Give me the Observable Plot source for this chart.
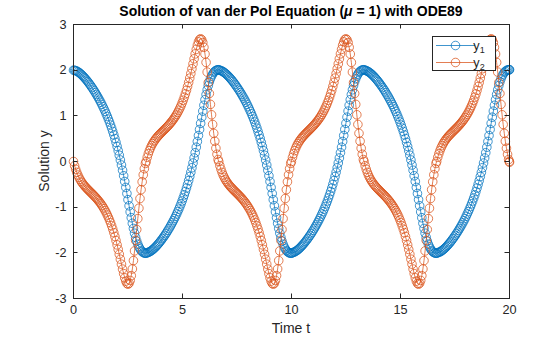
<!DOCTYPE html>
<html><head><meta charset="utf-8">
<script src="https://cdn.jsdelivr.net/npm/d3@7"></script>
<script src="https://cdn.jsdelivr.net/npm/@observablehq/plot@0.6"></script>
<style>
body{margin:0;background:#fff}
svg{font-family:"Liberation Sans",Arial,Helvetica,sans-serif}
</style>
</head><body><div id="chart"></div>
<script>
// Time samples (solver output points)
const t = [
0,0.05,0.1,0.15,0.2,0.25,0.3,0.35,0.4,0.45,0.5,0.55,0.6,0.65,0.7,0.75,0.8,0.85,0.9,0.95,1,1.05,1.1,1.15,1.2,1.25,1.3,1.35,1.4,1.45,1.5,1.55,1.6,1.65,1.7,1.75,1.8,1.85,1.9,1.95,2,2.05,2.1,2.15,2.2,2.25,2.3,2.35,2.4,2.45,2.5,2.55,2.6,2.65,2.7,2.75,2.8,2.85,2.9,2.95,3,3.05,3.1,3.15,3.2,3.25,3.3,
3.332,3.382,3.432,3.482,3.532,3.582,3.632,3.682,3.732,3.782,3.832,3.882,3.932,3.982,4.032,4.082,4.132,4.182,4.232,4.282,4.332,4.382,4.432,4.482,4.532,4.582,4.632,4.682,4.732,4.782,4.832,4.882,4.932,4.982,5.032,5.082,5.132,5.182,5.232,5.282,5.332,5.382,5.432,5.482,5.532,5.582,5.632,5.682,5.732,5.782,5.832,5.882,5.932,5.982,6.032,6.082,6.132,6.182,6.232,6.282,6.332,6.382,6.432,6.482,6.532,6.582,6.632,
6.664,6.714,6.764,6.814,6.864,6.914,6.964,7.014,7.064,7.114,7.164,7.214,7.264,7.314,7.364,7.414,7.464,7.514,7.564,7.614,7.664,7.714,7.764,7.814,7.864,7.914,7.964,8.014,8.064,8.114,8.164,8.214,8.264,8.314,8.364,8.414,8.464,8.514,8.564,8.614,8.664,8.714,8.764,8.814,8.864,8.914,8.964,9.014,9.064,9.114,9.164,9.214,9.264,9.314,9.364,9.414,9.464,9.514,9.564,9.614,9.664,9.714,9.764,9.814,9.864,9.914,9.964,
9.996,10.046,10.096,10.146,10.196,10.246,10.296,10.346,10.396,10.446,10.496,10.546,10.596,10.646,10.696,10.746,10.796,10.846,10.896,10.946,10.996,11.046,11.096,11.146,11.196,11.246,11.296,11.346,11.396,11.446,11.496,11.546,11.596,11.646,11.696,11.746,11.796,11.846,11.896,11.946,11.996,12.046,12.096,12.146,12.196,12.246,12.296,12.346,12.396,12.446,12.496,12.546,12.596,12.646,12.696,12.746,12.796,12.846,12.896,12.946,12.996,13.046,13.096,13.146,13.196,13.246,13.296,
13.328,13.378,13.428,13.478,13.528,13.578,13.628,13.678,13.728,13.778,13.828,13.878,13.928,13.978,14.028,14.078,14.128,14.178,14.228,14.278,14.328,14.378,14.428,14.478,14.528,14.578,14.628,14.678,14.728,14.778,14.828,14.878,14.928,14.978,15.028,15.078,15.128,15.178,15.228,15.278,15.328,15.378,15.428,15.478,15.528,15.578,15.628,15.678,15.728,15.778,15.828,15.878,15.928,15.978,16.028,16.078,16.128,16.178,16.228,16.278,16.328,16.378,16.428,16.478,16.528,16.578,16.628,
16.66,16.71,16.76,16.81,16.86,16.91,16.96,17.01,17.06,17.11,17.16,17.21,17.26,17.31,17.36,17.41,17.46,17.51,17.56,17.61,17.66,17.71,17.76,17.81,17.86,17.91,17.96,18.01,18.06,18.11,18.16,18.21,18.26,18.31,18.36,18.41,18.46,18.51,18.56,18.61,18.66,18.71,18.76,18.81,18.86,18.91,18.96,19.01,19.06,19.11,19.16,19.21,19.26,19.31,19.36,19.41,19.46,19.51,19.56,19.61,19.66,19.71,19.76,19.81,19.86,19.91,19.96,
19.992,20
];
// First solution component y1
const y1 = [
2,1.997,1.99,1.979,1.966,1.949,1.93,1.91,1.887,1.862,1.837,1.809,1.781,1.751,1.72,1.687,1.654,1.619,1.584,1.547,1.508,1.469,1.428,1.386,1.342,1.297,1.25,1.201,1.15,1.098,1.043,0.986,0.926,0.864,0.798,0.73,0.658,0.582,0.502,0.418,0.329,0.236,0.137,0.033,-0.077,-0.192,-0.313,-0.438,-0.568,-0.701,-0.836,-0.97,-1.103,-1.231,-1.353,-1.466,-1.57,-1.662,-1.743,-1.811,-1.868,-1.913,-1.949,-1.975,-1.993,-2.004,-2.009,
-2.009,-1.997,-1.99,-1.979,-1.966,-1.949,-1.93,-1.91,-1.887,-1.862,-1.837,-1.809,-1.781,-1.751,-1.72,-1.687,-1.654,-1.619,-1.584,-1.547,-1.508,-1.469,-1.428,-1.386,-1.342,-1.297,-1.25,-1.201,-1.15,-1.098,-1.043,-0.986,-0.926,-0.864,-0.798,-0.73,-0.658,-0.582,-0.502,-0.418,-0.329,-0.236,-0.137,-0.033,0.077,0.192,0.313,0.438,0.568,0.701,0.836,0.97,1.103,1.231,1.353,1.466,1.57,1.662,1.743,1.811,1.868,1.913,1.949,1.975,1.993,2.004,2.009,
2.009,1.997,1.99,1.979,1.966,1.949,1.93,1.91,1.887,1.862,1.837,1.809,1.781,1.751,1.72,1.687,1.654,1.619,1.584,1.547,1.508,1.469,1.428,1.386,1.342,1.297,1.25,1.201,1.15,1.098,1.043,0.986,0.926,0.864,0.798,0.73,0.658,0.582,0.502,0.418,0.329,0.236,0.137,0.033,-0.077,-0.192,-0.313,-0.438,-0.568,-0.701,-0.836,-0.97,-1.103,-1.231,-1.353,-1.466,-1.57,-1.662,-1.743,-1.811,-1.868,-1.913,-1.949,-1.975,-1.993,-2.004,-2.009,
-2.009,-1.997,-1.99,-1.979,-1.966,-1.949,-1.93,-1.91,-1.887,-1.862,-1.837,-1.809,-1.781,-1.751,-1.72,-1.687,-1.654,-1.619,-1.584,-1.547,-1.508,-1.469,-1.428,-1.386,-1.342,-1.297,-1.25,-1.201,-1.15,-1.098,-1.043,-0.986,-0.926,-0.864,-0.798,-0.73,-0.658,-0.582,-0.502,-0.418,-0.329,-0.236,-0.137,-0.033,0.077,0.192,0.313,0.438,0.568,0.701,0.836,0.97,1.103,1.231,1.353,1.466,1.57,1.662,1.743,1.811,1.868,1.913,1.949,1.975,1.993,2.004,2.009,
2.009,1.997,1.99,1.979,1.966,1.949,1.93,1.91,1.887,1.862,1.837,1.809,1.781,1.751,1.72,1.687,1.654,1.619,1.584,1.547,1.508,1.469,1.428,1.386,1.342,1.297,1.25,1.201,1.15,1.098,1.043,0.986,0.926,0.864,0.798,0.73,0.658,0.582,0.502,0.418,0.329,0.236,0.137,0.033,-0.077,-0.192,-0.313,-0.438,-0.568,-0.701,-0.836,-0.97,-1.103,-1.231,-1.353,-1.466,-1.57,-1.662,-1.743,-1.811,-1.868,-1.913,-1.949,-1.975,-1.993,-2.004,-2.009,
-2.009,-1.997,-1.99,-1.979,-1.966,-1.949,-1.93,-1.91,-1.887,-1.862,-1.837,-1.809,-1.781,-1.751,-1.72,-1.687,-1.654,-1.619,-1.584,-1.547,-1.508,-1.469,-1.428,-1.386,-1.342,-1.297,-1.25,-1.201,-1.15,-1.098,-1.043,-0.986,-0.926,-0.864,-0.798,-0.73,-0.658,-0.582,-0.502,-0.418,-0.329,-0.236,-0.137,-0.033,0.077,0.192,0.313,0.438,0.568,0.701,0.836,0.97,1.103,1.231,1.353,1.466,1.57,1.662,1.743,1.811,1.868,1.913,1.949,1.975,1.993,2.004,2.009,
2.009,2.009
];
// Second solution component y2
const y2 = [
0,-0.092,-0.17,-0.238,-0.297,-0.348,-0.393,-0.433,-0.468,-0.501,-0.53,-0.558,-0.584,-0.609,-0.633,-0.657,-0.681,-0.704,-0.728,-0.753,-0.778,-0.804,-0.832,-0.861,-0.891,-0.924,-0.958,-0.995,-1.034,-1.076,-1.122,-1.171,-1.223,-1.281,-1.342,-1.409,-1.481,-1.558,-1.642,-1.731,-1.826,-1.926,-2.031,-2.139,-2.248,-2.356,-2.456,-2.547,-2.62,-2.669,-2.687,-2.666,-2.605,-2.5,-2.353,-2.17,-1.958,-1.728,-1.489,-1.251,-1.023,-0.811,-0.617,-0.444,-0.291,-0.158,-0.043,
0,0.092,0.17,0.238,0.297,0.348,0.393,0.433,0.468,0.501,0.53,0.558,0.584,0.609,0.633,0.657,0.681,0.704,0.728,0.753,0.778,0.804,0.832,0.861,0.891,0.924,0.958,0.995,1.034,1.076,1.122,1.171,1.223,1.281,1.342,1.409,1.481,1.558,1.642,1.731,1.826,1.926,2.031,2.139,2.248,2.356,2.456,2.547,2.62,2.669,2.687,2.666,2.605,2.5,2.353,2.17,1.958,1.728,1.489,1.251,1.023,0.811,0.617,0.444,0.291,0.158,0.043,
0,-0.092,-0.17,-0.238,-0.297,-0.348,-0.393,-0.433,-0.468,-0.501,-0.53,-0.558,-0.584,-0.609,-0.633,-0.657,-0.681,-0.704,-0.728,-0.753,-0.778,-0.804,-0.832,-0.861,-0.891,-0.924,-0.958,-0.995,-1.034,-1.076,-1.122,-1.171,-1.223,-1.281,-1.342,-1.409,-1.481,-1.558,-1.642,-1.731,-1.826,-1.926,-2.031,-2.139,-2.248,-2.356,-2.456,-2.547,-2.62,-2.669,-2.687,-2.666,-2.605,-2.5,-2.353,-2.17,-1.958,-1.728,-1.489,-1.251,-1.023,-0.811,-0.617,-0.444,-0.291,-0.158,-0.043,
0,0.092,0.17,0.238,0.297,0.348,0.393,0.433,0.468,0.501,0.53,0.558,0.584,0.609,0.633,0.657,0.681,0.704,0.728,0.753,0.778,0.804,0.832,0.861,0.891,0.924,0.958,0.995,1.034,1.076,1.122,1.171,1.223,1.281,1.342,1.409,1.481,1.558,1.642,1.731,1.826,1.926,2.031,2.139,2.248,2.356,2.456,2.547,2.62,2.669,2.687,2.666,2.605,2.5,2.353,2.17,1.958,1.728,1.489,1.251,1.023,0.811,0.617,0.444,0.291,0.158,0.043,
0,-0.092,-0.17,-0.238,-0.297,-0.348,-0.393,-0.433,-0.468,-0.501,-0.53,-0.558,-0.584,-0.609,-0.633,-0.657,-0.681,-0.704,-0.728,-0.753,-0.778,-0.804,-0.832,-0.861,-0.891,-0.924,-0.958,-0.995,-1.034,-1.076,-1.122,-1.171,-1.223,-1.281,-1.342,-1.409,-1.481,-1.558,-1.642,-1.731,-1.826,-1.926,-2.031,-2.139,-2.248,-2.356,-2.456,-2.547,-2.62,-2.669,-2.687,-2.666,-2.605,-2.5,-2.353,-2.17,-1.958,-1.728,-1.489,-1.251,-1.023,-0.811,-0.617,-0.444,-0.291,-0.158,-0.043,
0,0.092,0.17,0.238,0.297,0.348,0.393,0.433,0.468,0.501,0.53,0.558,0.584,0.609,0.633,0.657,0.681,0.704,0.728,0.753,0.778,0.804,0.832,0.861,0.891,0.924,0.958,0.995,1.034,1.076,1.122,1.171,1.223,1.281,1.342,1.409,1.481,1.558,1.642,1.731,1.826,1.926,2.031,2.139,2.248,2.356,2.456,2.547,2.62,2.669,2.687,2.666,2.605,2.5,2.353,2.17,1.958,1.728,1.489,1.251,1.023,0.811,0.617,0.444,0.291,0.158,0.043,
0,-0.016
];
const xTicks = [0,5,10,15,20];
const yTicks = [-3,-2,-1,0,1,2,3];
const seriesNames = ["1","2"];
const seriesColors = ["#0072BD","#D95319"];
const titleParts = ["Solution of van der Pol Equation (", "\u03BC", " = 1) with ODE89"];
const xLabel = "Time t";
const yLabel = "Solution y";

const n = Math.min(t.length, y1.length, y2.length);
const rows1 = t.slice(0,n).map((v,i)=>({t:v, y:y1[i]}));
const rows2 = t.slice(0,n).map((v,i)=>({t:v, y:y2[i]}));
const ink = "#262626";
const fmt = d => String(d);
const sw = 0.75;

const chart = Plot.plot({
  width:560, height:337,
  marginLeft:73, marginRight:51, marginTop:24, marginBottom:39,
  style:{fontFamily:'"Liberation Sans",Arial,Helvetica,sans-serif', fontSize:"12.7px", color:ink, background:"#fff", overflow:"visible"},
  x:{domain:[0,20]},
  y:{domain:[-3,3]},
  marks:[
    Plot.line(rows1,{x:"t", y:"y", stroke:seriesColors[0], strokeWidth:sw}),
    Plot.dot(rows1,{x:"t", y:"y", r:4.3, stroke:seriesColors[0], fill:"none", strokeWidth:sw}),
    Plot.line(rows2,{x:"t", y:"y", stroke:seriesColors[1], strokeWidth:sw}),
    Plot.dot(rows2,{x:"t", y:"y", r:4.3, stroke:seriesColors[1], fill:"none", strokeWidth:sw}),
    Plot.frame({stroke:ink, strokeWidth:1}),
    Plot.axisX(xTicks,{anchor:"bottom", tickSize:0, tickPadding:6, tickFormat:fmt, label:null, fill:ink}),
    Plot.axisY(yTicks,{anchor:"left", tickSize:0, tickPadding:7, tickFormat:fmt, label:null, fill:ink})
  ]
});
document.getElementById("chart").appendChild(chart);

const svg = d3.select(chart);
const xs = chart.scale("x"), ys = chart.scale("y");
const [fx0, fx1] = xs.range, [fy0, fy1] = ys.range; // fy0 bottom, fy1 top
const tl = 4.5;
const tg = svg.append("g").attr("stroke", ink).attr("stroke-width", 1);
xTicks.forEach(v => {
  const px = Math.round(xs.apply(v)) + 0.5;
  tg.append("line").attr("x1",px).attr("x2",px).attr("y1",fy0).attr("y2",fy0-tl);
  tg.append("line").attr("x1",px).attr("x2",px).attr("y1",fy1).attr("y2",fy1+tl);
});
yTicks.forEach(v => {
  const py = Math.round(ys.apply(v)) + 0.5;
  tg.append("line").attr("x1",fx0).attr("x2",fx0+tl).attr("y1",py).attr("y2",py);
  tg.append("line").attr("x1",fx1).attr("x2",fx1-tl).attr("y1",py).attr("y2",py);
});
// Title
const title = svg.append("text").attr("x",(fx0+fx1)/2).attr("y",16).attr("text-anchor","middle")
  .attr("font-size","14px").attr("font-weight","bold").attr("fill","#000");
title.append("tspan").text(titleParts[0]);
title.append("tspan").attr("font-style","italic").text(titleParts[1]);
title.append("tspan").text(titleParts[2]);
// Axis labels
svg.append("text").attr("x",(fx0+fx1)/2).attr("y",333).attr("text-anchor","middle")
  .attr("font-size","14px").attr("fill",ink).text(xLabel);
svg.append("text").attr("transform","translate(49,161) rotate(-90)").attr("text-anchor","middle")
  .attr("font-size","14px").attr("fill",ink).text(yLabel);
// Legend
const lg = svg.append("g");
lg.append("rect").attr("x",432.5).attr("y",36.5).attr("width",63).attr("height",34)
  .attr("fill","#fff").attr("stroke",ink).attr("stroke-width",1);
seriesNames.forEach((s,i)=>{
  const yy = 45.5 + i*17;
  lg.append("line").attr("x1",436).attr("x2",475).attr("y1",yy).attr("y2",yy)
    .attr("stroke",seriesColors[i]).attr("stroke-width",sw);
  lg.append("circle").attr("cx",455.5).attr("cy",yy).attr("r",4.3)
    .attr("fill","none").attr("stroke",seriesColors[i]).attr("stroke-width",sw);
  const tx = lg.append("text").attr("x",479).attr("y",yy+4).attr("font-size","12.7px").attr("fill",ink);
  tx.append("tspan").text("y");
  tx.append("tspan").attr("font-size","9px").attr("dy","3").text(s);
});
</script>
</body></html>
